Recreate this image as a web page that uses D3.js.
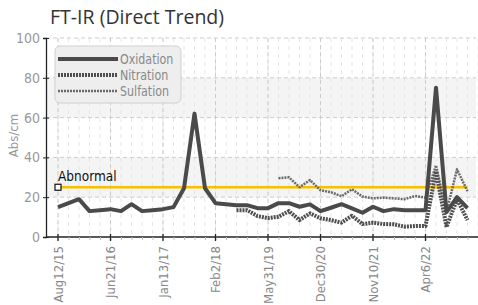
<!DOCTYPE html>
<html>
<head>
<meta charset="utf-8">
<script src="https://cdn.jsdelivr.net/npm/d3@7"></script>
<style>
  body { margin: 0; background: #fff; }
  svg { display: block; }
  .cond { font-family: "Liberation Sans Narrow", "DejaVu Sans Condensed", "Roboto", sans-serif; font-stretch: condensed; }
</style>
</head>
<body>
<div id="chart"></div>
<script>
let width = 478,
    height = 305,
    margin = ({ top: 38, right: 2, bottom: 68, left: 46 });

// tick labels shown every 5 samples
const tickLabels = ["Aug12/15", "Jun21/16", "Jan13/17", "Feb2/18", "May31/19", "Dec30/20", "Nov10/21", "Apr6/22"];
const tickIndex = [0, 5, 10, 15, 20, 25, 30, 35];
const sampleCount = 40;

const seriesNames = ["Oxidation", "Nitration", "Sulfation"];

const oxidation = [15, 17, 19, 13, 13.5, 14, 13, 16.5, 13, 13.5,
  14, 15, 24.5, 62, 24.5, 17, 16.5, 16, 16, 14.5,
  14.5, 17, 17, 15.2, 16.4, 13, 14.7, 16.5, 14.4, 12.2,
  15.2, 13, 14, 13.5, 13.5, 13.5, 75, 12.5, 20, 14.5];

const nitration = [null, null, null, null, null, null, null, null, null, null,
  null, null, null, null, null, null, null, 13.5, 13.5, 10.5,
  9.5, 10.2, 13, 8.5, 11.9, 9.4, 8.5, 7.2, 10.7, 6.5,
  7.2, 6.5, 6.4, 5.2, 5.5, 5.5, 33, 5, 19, 8.5];

const sulfation = [null, null, null, null, null, null, null, null, null, null,
  null, null, null, null, null, null, null, null, null, null,
  null, 29.5, 30, 25, 28.6, 23.5, 22.5, 20.5, 24, 20.3,
  19.4, 19.8, 19.4, 19, 20.6, 19.8, 36, 12.5, 34, 23];

const abnormal = 25;
const yTicks = [0, 20, 40, 60, 80, 100];

const svg = d3.select("#chart")
  .append("svg")
  .attr("width", width)
  .attr("height", height);

let x = d3.scaleLinear()
  .domain([0, sampleCount - 1])
  .range([58, 467.5]);

let y = d3.scaleLinear()
  .domain([0, 100])
  .range([height - margin.bottom, margin.top]);

// shaded bands 20-40 and 60-80
[[20, 40], [60, 80]].forEach(b => {
  svg.append("rect")
    .attr("x", margin.left)
    .attr("y", y(b[1]))
    .attr("width", width - margin.right - margin.left)
    .attr("height", y(b[0]) - y(b[1]))
    .attr("fill", "#f4f4f4");
});

// minor vertical grid (every sample)
svg.append("g")
  .selectAll("line")
  .data(d3.range(sampleCount + 1))
  .join("line")
    .attr("x1", d => x(d)).attr("x2", d => x(d))
    .attr("y1", y(100)).attr("y2", y(0))
    .attr("stroke", "#e6e6e6")
    .attr("stroke-dasharray", "4,4");

// major vertical grid
svg.append("g")
  .selectAll("line")
  .data(tickIndex)
  .join("line")
    .attr("x1", d => x(d)).attr("x2", d => x(d))
    .attr("y1", y(100)).attr("y2", y(0))
    .attr("stroke", "#cccccc")
    .attr("stroke-dasharray", "4,3");

// horizontal grid
svg.append("g")
  .selectAll("line")
  .data(yTicks.slice(1))
  .join("line")
    .attr("x1", margin.left).attr("x2", width - margin.right)
    .attr("y1", d => y(d)).attr("y2", d => y(d))
    .attr("stroke", "#cccccc")
    .attr("stroke-dasharray", "4,3");

// y axis
let yAxis = svg.append("g")
  .attr("transform", `translate(${margin.left},0)`)
  .call(d3.axisLeft(y).tickValues(yTicks).tickSize(3).tickPadding(3));
yAxis.select(".domain").attr("stroke", "#222").attr("stroke-width", 1.3);
yAxis.selectAll(".tick line").attr("stroke", "#222").attr("x2", 3).attr("x1", -3);
yAxis.selectAll(".tick text")
  .attr("class", "cond")
  .attr("font-size", 14)
  .attr("fill", "#999");

// x axis, minor ticks at every sample
let xAxis = svg.append("g")
  .attr("transform", `translate(0,${y(0)})`)
  .call(d3.axisBottom(x)
    .tickValues(d3.range(sampleCount + 1))
    .tickSize(3)
    .tickFormat("")
    .tickSizeOuter(0));
xAxis.select(".domain").attr("stroke", "#222").attr("stroke-width", 1.3)
  .attr("d", `M${margin.left},0H${width}`);
xAxis.selectAll(".tick line").attr("stroke", "#bbb");

let xMajor = svg.append("g")
  .attr("transform", `translate(0,${y(0)})`);
xMajor.selectAll("line")
  .data(tickIndex)
  .join("line")
    .attr("x1", d => x(d)).attr("x2", d => x(d))
    .attr("y1", -3).attr("y2", 4)
    .attr("stroke", "#222")
    .attr("stroke-width", 1.3);
xMajor.selectAll("text")
  .data(tickIndex)
  .join("text")
    .attr("class", "cond")
    .attr("transform", d => `translate(${x(d) + 4.5},9) rotate(-90)`)
    .attr("text-anchor", "end")
    .attr("font-size", 13)
    .attr("fill", "#888")
    .text((d, i) => tickLabels[i]);

// y label
svg.append("text")
  .attr("class", "cond")
  .attr("transform", `translate(18,${y(51)}) rotate(-90)`)
  .attr("text-anchor", "middle")
  .attr("font-size", 13)
  .attr("fill", "#999")
  .text("Abs/cm");

// title
svg.append("text")
  .attr("x", 50)
  .attr("y", 24)
  .attr("font-family", "'Open Sans', sans-serif")
  .attr("font-size", 19.5)
  .attr("fill", "#333")
  .text("FT-IR (Direct Trend)");

// abnormal limit
svg.append("line")
  .attr("x1", x(0) + 3).attr("x2", x(sampleCount - 1))
  .attr("y1", y(abnormal)).attr("y2", y(abnormal))
  .attr("stroke", "#f7bf00")
  .attr("stroke-width", 2.5);
svg.append("rect")
  .attr("x", x(0) - 3).attr("y", y(abnormal) - 3)
  .attr("width", 6).attr("height", 6)
  .attr("fill", "#fff").attr("stroke", "#111").attr("stroke-width", 1.2);
svg.append("text")
  .attr("class", "cond")
  .attr("x", x(0))
  .attr("y", y(abnormal) - 6)
  .attr("font-size", 13.5)
  .attr("fill", "#111")
  .text("Abnormal");

let line = d3.line()
  .defined(d => d != null)
  .x((d, i) => x(i))
  .y(d => y(d));

const styles = [
  { data: oxidation, color: "#4a4a4a", w: 4, dash: null },
  { data: nitration, color: "#4f4f4f", w: 4, dash: "2,1" },
  { data: sulfation, color: "#6a6a6a", w: 2.5, dash: "2,1" }
];

styles.slice().reverse().forEach(s => {
  svg.append("path")
    .datum(s.data)
    .attr("fill", "none")
    .attr("stroke", s.color)
    .attr("stroke-width", s.w)
    .attr("stroke-dasharray", s.dash)
    .attr("stroke-linejoin", "round")
    .attr("d", line);
});

// legend
let legend = svg.append("g");
legend.append("rect")
  .attr("x", 55).attr("y", 46)
  .attr("width", 126).attr("height", 57)
  .attr("rx", 5)
  .attr("fill", "#eeeeee")
  .attr("stroke", "#cfcfcf");
styles.forEach((s, i) => {
  let ly = 59 + i * 16;
  legend.append("line")
    .attr("x1", 58).attr("x2", 118)
    .attr("y1", ly).attr("y2", ly)
    .attr("stroke", s.color)
    .attr("stroke-width", s.w)
    .attr("stroke-dasharray", s.dash);
  legend.append("text")
    .attr("class", "cond")
    .attr("transform", `translate(120,${ly + 5}) scale(0.88,1)`)
    .attr("font-size", 14)
    .attr("fill", "#888")
    .text(seriesNames[i]);
});
</script>
</body>
</html>
